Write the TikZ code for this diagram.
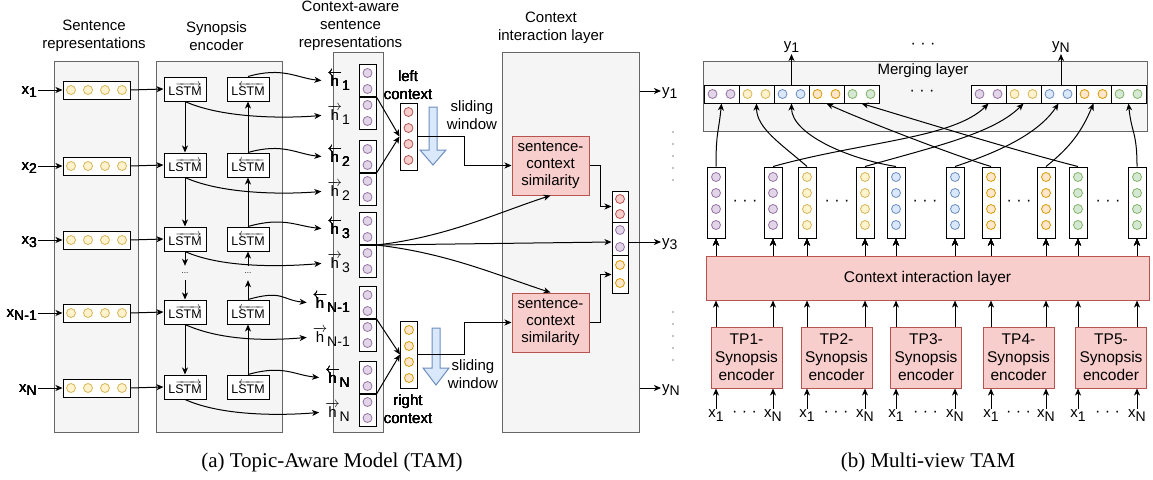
\documentclass[tikz,border=0pt]{standalone}
\usepackage{fontspec}
\setmainfont{Liberation Sans}
\newfontfamily\capfont{Liberation Serif}
\usetikzlibrary{arrows.meta,calc,positioning}

\definecolor{grayfill}{HTML}{F5F5F5}
\definecolor{graydraw}{HTML}{666666}
\definecolor{redfill}{HTML}{F8CECC}
\definecolor{reddraw}{HTML}{B85450}
\definecolor{purfill}{HTML}{E1D5E7}
\definecolor{purdraw}{HTML}{9673A6}
\definecolor{yelfill}{HTML}{FFF2CC}
\definecolor{yeldraw}{HTML}{D6B656}
\definecolor{bluefill}{HTML}{DAE8FC}
\definecolor{bluedraw}{HTML}{6C8EBF}
\definecolor{orgfill}{HTML}{FFE6CC}
\definecolor{orgdraw}{HTML}{D79B00}
\definecolor{grnfill}{HTML}{D5E8D4}
\definecolor{grndraw}{HTML}{82B366}

\newcommand{\lowr}[1]{\raisebox{-0.25em}{\fontsize{14}{14}\selectfont #1}}
\newcommand{\fwdlstm}{L\ensuremath{\overrightarrow{\mbox{STM}}}}
\newcommand{\bwdlstm}{L\ensuremath{\overleftarrow{\mbox{STM}}}}
\newcommand{\hfw}[1]{\ensuremath{\overrightarrow{\mbox{h}}}\lowr{#1}}
\newcommand{\hbw}[1]{\ensuremath{\overleftarrow{\mbox{h}}}\lowr{#1}}
\newcommand{\ball}[3]{\node[ball,fill=#1fill,draw=#1draw] at (#2,#3) {};}
\newcommand{\slidearrow}[4]{\draw[swin] (#1-4,#2) -- (#1+4,#2) -- (#1+4,#3) -- (#1+13,#3) -- (#1,#4) -- (#1-13,#3) -- (#1-4,#3) -- cycle;}

\tikzset{
  layer/.style={draw=graydraw,fill=grayfill,line width=1pt,inner sep=0pt},
  redbox/.style={draw=reddraw,fill=redfill,line width=1pt,align=center,inner sep=0pt,font=\fontsize{15}{17}\selectfont},
  vec/.style={draw=black,fill=white,line width=1pt,inner sep=0pt},
  ball/.style={circle,inner sep=0pt,minimum size=9pt,line width=0.8pt},
  lstm/.style={draw=black,fill=white,line width=1pt,minimum width=42pt,minimum height=24pt,inner sep=0pt,font=\fontsize{12.5}{14}\selectfont},
  arr/.style={-{Stealth[length=7pt,width=6pt,inset=2pt]},line width=1pt},
  lbl/.style={font=\fontsize{15}{18}\selectfont,align=center,inner sep=1pt},
  swin/.style={draw=bluedraw,fill=bluefill,line width=1pt},
  dots/.style={font=\fontsize{16}{18}\selectfont,inner sep=0pt},
}

\begin{document}
\begin{tikzpicture}[x=1pt,y=-1pt]
\useasboundingbox (0,0) rectangle (1153,479);

% ---- (a) layers
\node[layer,minimum width=84pt,minimum height=371pt] (sentbg) at (96,246.5) {};
\node[layer,minimum width=126pt,minimum height=371pt] (encbg) at (219,246.5) {};
\node[layer,minimum width=50pt,minimum height=380pt] (ctxbg) at (358,242) {};
\node[layer,minimum width=137pt,minimum height=380pt] (cil) at (570.5,242) {};

\node[lbl] at (94,36) {Sentence\\representations};
\node[lbl] at (216.5,36) {Synopsis\\encoder};
\node[lbl] at (350.5,26) {Context-aware\\sentence\\representations};
\node[lbl] at (551,28) {Context\\interaction layer};

% rows
\foreach \i/\y/\s/\xl in {1/90/97/1, 2/166/173/2, 3/240/245/3, 4/313/319/N-1, 5/388/394/N} {
  \node[vec,minimum width=67pt,minimum height=18pt] (sent\i) at (96.5,\y) {};
  \foreach \cx in {71,88,105,122} \ball{yel}{\cx}{\y}
  \node[lbl,anchor=base east] (x\i) at (38,\y+4) {x\lowr{\xl}};
  \draw[arr] (x\i.east |- sent\i.west) -- (sent\i.west);
  \node[lstm] (fw\i) at (185,\y-1) {\fwdlstm};
  \node[lstm] (bw\i) at (248,\y-1) {\bwdlstm};
  \draw[arr] (sent\i.east) -- (fw\i.west);
  \node[vec,minimum width=17pt,minimum height=32pt,anchor=south] (hb\i) at (367.5,\s) {};
  \node[vec,minimum width=17pt,minimum height=32pt,anchor=north] (hf\i) at (367.5,\s) {};
  \foreach \cy in {-24,-8,8,24} \ball{pur}{367.5}{\s+\cy}
  \node[lbl,anchor=east] (lhb\i) at (351,\s-16) {\hbw{\xl}};
  \node[lbl,anchor=east] (lhf\i) at (351,\s+18) {\hfw{\xl}};
  \draw[arr,shorten >=5pt] (bw\i.north) .. controls +(35,-10) and +(-30,-3) .. (lhb\i.west);
  \draw[arr,shorten >=5pt] (fw\i.south) .. controls +(40,18) and +(-35,3) .. (lhf\i.west);
}

% LSTM chains
\node[font=\fontsize{8}{8}\selectfont,minimum height=14pt,inner sep=0pt] (fdots) at (185,273) {...};
\node[font=\fontsize{8}{8}\selectfont,minimum height=14pt,inner sep=0pt] (bdots) at (248,273) {...};
\draw[arr] (fw1.south) -- (fw2.north);
\draw[arr] (fw2.south) -- (fw3.north);
\draw[arr] (fw3.south) -- (fdots.north);
\draw[arr] (fdots.south) -- (fw4.north);
\draw[arr] (fw4.south) -- (fw5.north);
\draw[arr] (bw2.north) -- (bw1.south);
\draw[arr] (bw3.north) -- (bw2.south);
\draw[arr] (bdots.north) -- (bw3.south);
\draw[arr] (bw4.north) -- (bdots.south);
\draw[arr] (bw5.north) -- (bw4.south);

% left / right context
\node[vec,minimum width=17pt,minimum height=67pt] (lctx) at (408.5,136.5) {};
\foreach \cy in {112,128,144,160} \ball{red}{408.5}{\cy}
\node[lbl] at (408,85) {left\\context};
\draw[arr] (hf1.north east) -- (lctx.west);
\draw[arr] (hf2.north east) -- (lctx.west);

\node[vec,minimum width=17pt,minimum height=67pt] (rctx) at (409,354.5) {};
\foreach \cy in {330,346,362,378} \ball{org}{409}{\cy}
\node[lbl] at (408,409) {right\\context};
\draw[arr] (hf4.north east) -- (rctx.west);
\draw[arr] (hf5.north east) -- (rctx.west);

\slidearrow{433}{107}{150}{165}
\slidearrow{436}{328}{368}{385}
\node[lbl] at (472,115) {sliding\\window};
\node[lbl] at (473,374.5) {sliding\\window};

% similarity
\node[redbox,minimum width=77pt,minimum height=59pt] (sim1) at (550.5,165.5) {sentence-\\context\\similarity};
\node[redbox,minimum width=77pt,minimum height=59pt] (sim2) at (550.5,322.5) {sentence-\\context\\similarity};
\draw[arr] (lctx.east) -| ($(lctx.east)!0.5!(sim1.west)$) |- (sim1.west);
\draw[arr] (rctx.east) -| ($(rctx.east)!0.5!(sim2.west)$) |- (sim2.west);

% combined vector
\node[vec,minimum width=16pt,minimum height=102pt] (cmb) at (620,242) {};
\draw[line width=1pt] ($(cmb.north west)+(0,32)$) -- ($(cmb.north east)+(0,32)$);
\draw[line width=1pt] ($(cmb.north west)+(0,65)$) -- ($(cmb.north east)+(0,65)$);
\ball{red}{620}{199} \ball{red}{620}{214}
\ball{pur}{620}{230} \ball{pur}{620}{247}
\ball{org}{620}{265} \ball{org}{620}{283}
\draw[arr] (sim1.east) -- ++(11,0) |- ($(cmb.north west)+(0,16)$);
\draw[arr] (sim2.east) -- ++(11,0) |- ($(cmb.south west)+(0,-19)$);
\draw[arr] (hf3.north east) .. controls +(70,-8) and +(-55,18) .. (sim1.south);
\draw[arr] (hf3.north east) -- (cmb.west);
\draw[arr] (hf3.north east) .. controls +(70,8) and +(-55,-18) .. (sim2.north);

% outputs
\node[lbl,anchor=base west] (y1) at (661,95) {y\lowr{1}};
\node[lbl,anchor=base west] (y3) at (661,246) {y\lowr{3}};
\node[lbl,anchor=base west] (yN) at (661,392) {y\lowr{N}};
\draw[arr] (cil.east |- 0,91) -- (y1.west |- 0,91);
\draw[arr] (cmb.east) -- (y3.west |- cmb.east);
\draw[arr] (cil.east |- 0,388) -- (yN.west |- 0,388);
\foreach \d in {0,...,4} {
  \fill (673,132+12*\d) circle (0.7);
  \fill (673,312+12*\d) circle (0.7);
}

% ---- (b)
\node[layer,minimum width=444pt,minimum height=70pt] (merge) at (925,96) {};
\node[lbl] at (923,71) {Merging layer};
\foreach \c/\vcol in {1/pur,2/yel,3/blue,4/org,5/grn} {
  \node[vec,minimum width=35pt,minimum height=18pt] (lm\c) at (686.5+35*\c,94) {};
  \ball{\vcol}{677.5+35*\c}{94}
  \ball{\vcol}{695.5+35*\c}{94}
  \node[vec,minimum width=35pt,minimum height=18pt] (rm\c) at (953.5+35*\c,94) {};
  \ball{\vcol}{944.5+35*\c}{94}
  \ball{\vcol}{962.5+35*\c}{94}
}
\node[dots] at (922,93) {· · ·};
\node[dots] at (923,46) {· · ·};
\node[lbl,anchor=south] (y1b) at (791.5,54) {y\lowr{1}};
\node[lbl,anchor=south] (yNb) at (1061,54) {y\lowr{N}};
\draw[arr] (lm3.north) -- (y1b.south);
\draw[arr] (yNb.south |- rm3.north) -- (yNb.south);

\node[redbox,minimum width=443pt,minimum height=44pt,font=\fontsize{15.5}{18}\selectfont] (cilb) at (927.5,278) {Context interaction layer};

\foreach \c/\cx/\vcol in {1/716/pur,2/773/pur,3/807/yel,4/865/yel,5/896/blue,6/955/blue,7/991/org,8/1046/org,9/1078/grn,10/1137/grn} {
  \node[vec,minimum width=18pt,minimum height=71pt] (col\c) at (\cx,202.5) {};
  \foreach \cy in {177,193,209,225} \ball{\vcol}{\cx}{\cy}
  \draw[arr] (col\c.south |- cilb.north) -- (col\c.south);
}
\foreach \dx in {745,837,925,1019,1108} \node[dots] at (\dx,203) {· · ·};

\foreach \k/\tx/\a/\b in {1/746.5/1/2, 2/836.5/3/4, 3/926/5/6, 4/1018.5/7/8, 5/1111/9/10} {
  \node[redbox,minimum width=71pt,minimum height=61pt,font=\fontsize{15.5}{18}\selectfont] (tp\k) at (\tx,357.5) {TP\k-\\Synopsis\\encoder};
  \draw[arr] (tp\k.north -| col\a.south) -- (cilb.south -| col\a.south);
  \draw[arr] (tp\k.north -| col\b.south) -- (cilb.south -| col\b.south);
  \node[lbl,anchor=north] (xa\k) at ($(tp\k.south -| col\a.south)+(0,20)$) {x\lowr{1}};
  \node[lbl,anchor=north] (xb\k) at ($(tp\k.south -| col\b.south)+(0,20)$) {x\lowr{N}};
  \draw[arr] (xa\k.north) -- (xa\k.north |- tp\k.south);
  \draw[arr] (xb\k.north) -- (xb\k.north |- tp\k.south);
  \node[dots] at ($(xa\k)!0.5!(xb\k)+(0,-2)$) {· · ·};
}

% merging connectors
\draw[arr] (col1.north) .. controls +(0,-35) and +(-3,30) .. (lm1.south);
\draw[arr] (col3.north) .. controls +(-25,-22) and +(0,25) .. (lm2.south);
\draw[arr] (col5.north) .. controls +(-50,-8) and +(0,30) .. (lm3.south);
\draw[arr] (col7.north) .. controls +(-40,-12) and +(30,14) .. (lm4.south);
\draw[arr] (col9.north) .. controls +(-60,-15) and +(40,12) .. (lm5.south);
\draw[arr] (col2.north) .. controls +(90,-25) and +(-35,35) .. (rm1.south);
\draw[arr] (col4.north) .. controls +(70,-20) and +(-30,30) .. (rm2.south);
\draw[arr] (col6.north) .. controls +(45,-15) and +(-20,30) .. (rm3.south);
\draw[arr] (col8.north) .. controls +(25,-20) and +(-12,28) .. (rm4.south);
\draw[arr] (col10.north) .. controls +(0,-35) and +(3,30) .. (rm5.south);

% captions
\node[font=\capfont\fontsize{21}{24}\selectfont] at (332,462) {(a) Topic-Aware Model (TAM)};
\node[font=\capfont\fontsize{21}{24}\selectfont] at (928,462) {(b) Multi-view TAM};
\end{tikzpicture}
\end{document}
